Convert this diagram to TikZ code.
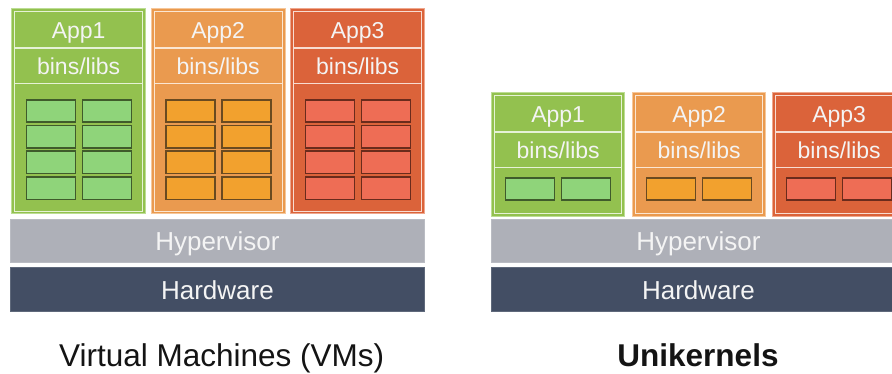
\documentclass[tikz,border=0pt]{standalone}
\usepackage{fontspec}
\setmainfont{Liberation Sans}
\begin{document}
\begin{tikzpicture}[x=1pt,y=-1pt]
\definecolor{gcol}{HTML}{93C14F}
\definecolor{gline}{HTML}{BCDD94}
\definecolor{gsep}{HTML}{E6F2D6}
\definecolor{gbox}{HTML}{8FD47A}
\definecolor{gbd}{HTML}{3F5B2B}
\definecolor{ocol}{HTML}{EA9A4F}
\definecolor{oline}{HTML}{F6C79A}
\definecolor{osep}{HTML}{FBE6D2}
\definecolor{obox}{HTML}{F2A12E}
\definecolor{obd}{HTML}{6A4A20}
\definecolor{rcol}{HTML}{DB633A}
\definecolor{rline}{HTML}{EEA78D}
\definecolor{rsep}{HTML}{F8DCD1}
\definecolor{rbox}{HTML}{EE6D55}
\definecolor{rbd}{HTML}{6A2B1C}
\definecolor{hyp}{HTML}{AEB0B8}
\definecolor{hw}{HTML}{434E64}
\definecolor{txt}{HTML}{F4F4F4}
\clip (0,0) rectangle (892,374);
\fill[white] (0,0) rectangle (892,374);
\tikzset{
  region/.style={rectangle, inner sep=0pt, anchor=north west, text=txt, text depth=0pt},
  colbox/.style 2 args={region, fill=#1, draw=#2, line width=1.3pt},
  part/.style={region, draw=#1, line width=1.3pt},
  lbl/.style={font=\fontsize{23}{23}\selectfont, text height=16.6pt},
  bar/.style={region, font=\fontsize{26}{26}\selectfont, text height=18.7pt, minimum width=414pt, minimum height=43.5pt},
  cell/.style 2 args={rectangle, inner sep=0pt, anchor=north west, fill=#1, draw=#2,
     line width=1.6pt, minimum width=49pt, minimum height=22.5pt},
  caption/.style={anchor=base, text=black!92, font=\fontsize{31.5}{31.5}\selectfont}
}
% ---------- Virtual machines ----------
\foreach \i/\x/\c/\l/\s/\b/\d in {1/11/gcol/gline/gsep/gbox/gbd, 2/150.5/ocol/oline/osep/obox/obd, 3/290/rcol/rline/rsep/rbox/rbd}{
  \node[colbox={\c}{\l}, minimum width=134pt, minimum height=205pt] (vm\i) at (\x,8) {};
  \node[part=\s, lbl, minimum width=128pt, minimum height=36.5pt] (vmapp\i) at (\x+3,11) {App\i};
  \node[part=\s, lbl, minimum width=128pt, minimum height=35.5pt] (vmlib\i) at (\x+3,47.5) {bins/libs};
  \node[part=\s, minimum width=128pt, minimum height=128pt] (vmbody\i) at (\x+3,83) {};
  \foreach \r in {0,1,2,3}{
    \node[cell={\b}{\d}] (vmc\i a\r) at (\x+14.5,99+25.7*\r) {};
    \node[cell={\b}{\d}] (vmc\i b\r) at (\x+70.5,99+25.7*\r) {};
  }
}
\node[bar, fill=hyp, draw=hyp!85!white, line width=0.8pt] (hyp1) at (10,219) {Hypervisor};
\node[bar, fill=hw, draw=hw!85!white, line width=0.8pt] (hw1) at (10,267.5) {Hardware};
\node[caption] (cap1) at (221.7,366.7) {Virtual Machines (VMs)};
% ---------- Unikernels ----------
\foreach \i/\x/\c/\l/\s/\b/\d in {1/491/gcol/gline/gsep/gbox/gbd, 2/632/ocol/oline/osep/obox/obd, 3/772/rcol/rline/rsep/rbox/rbd}{
  \node[colbox={\c}{\l}, minimum width=133pt, minimum height=124pt] (uk\i) at (\x,92) {};
  \node[part=\s, lbl, minimum width=127pt, minimum height=36.5pt] (ukapp\i) at (\x+3,95) {App\i};
  \node[part=\s, lbl, minimum width=127pt, minimum height=35.5pt] (uklib\i) at (\x+3,131.5) {bins/libs};
  \node[part=\s, minimum width=127pt, minimum height=46pt] (ukbody\i) at (\x+3,167) {};
  \node[cell={\b}{\d}] (ukc\i a) at (\x+13.5,177) {};
  \node[cell={\b}{\d}] (ukc\i b) at (\x+69.5,177) {};
}
\node[bar, fill=hyp, draw=hyp!85!white, line width=0.8pt] (hyp2) at (491,219) {Hypervisor};
\node[bar, fill=hw, draw=hw!85!white, line width=0.8pt] (hw2) at (491,267.5) {Hardware};
\node[caption, font=\fontsize{31.5}{31.5}\selectfont\bfseries] (cap2) at (698,366.7) {Unikernels};
\end{tikzpicture}
\end{document}
